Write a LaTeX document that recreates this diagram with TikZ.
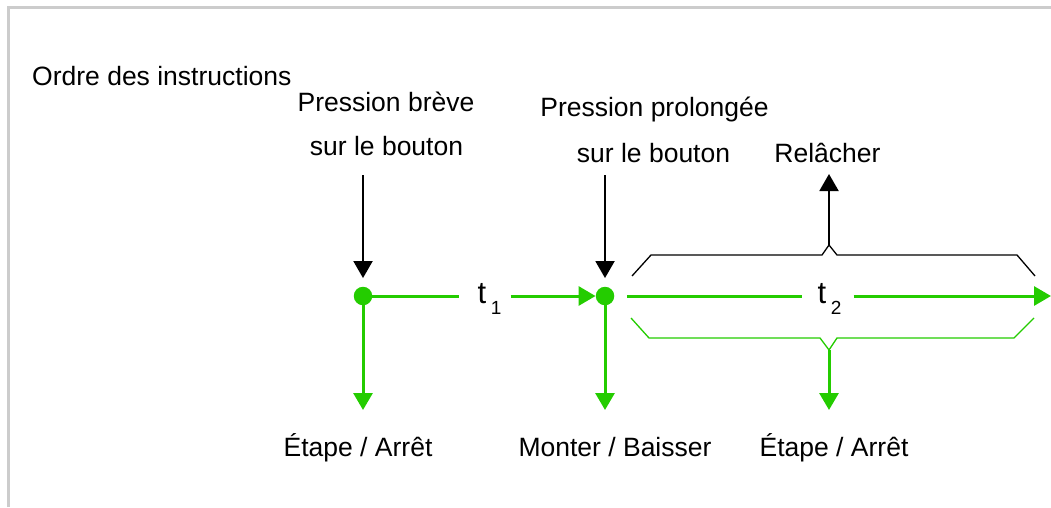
\documentclass[tikz,border=0pt]{standalone}
\usepackage{fontspec}
\setmainfont{Liberation Sans}
\usetikzlibrary{arrows.meta}
\definecolor{vert}{RGB}{36,204,0}
\definecolor{cadre}{RGB}{204,204,204}
\newcommand{\indice}[1]{\raisebox{-11pt}{\hspace{4.5pt}\fontsize{19}{22}\selectfont #1}}
\tikzset{
  txt/.style={font=\fontsize{26.5}{32}\selectfont, inner sep=0pt, anchor=base},
  tlab/.style={font=\fontsize{31}{36}\selectfont, inner sep=0pt, anchor=base west},
  pt/.style={circle, fill=vert, inner sep=0pt, minimum size=18.5pt},
  vfl/.style={draw=vert, line width=3pt, -{Triangle[length=17pt,width=19pt]}},
  nfl/.style={draw=black, line width=2pt, -{Triangle[length=17pt,width=19pt]}},
  accol/.style={line width=1.3pt}
}
\begin{document}
\begin{tikzpicture}[x=1pt,y=-1pt]
      \useasboundingbox (0,0) rectangle (1051,507);
      \draw[cadre, line width=3pt] (8.5,507) -- (8.5,7) -- (1051,7);
      \draw
        (32,85) node[txt, anchor=base west] (ordre){Ordre des instructions}
        (386,111) node[txt] (pb1){Pression brève}
        (386.5,155) node[txt] (pb2){sur le bouton}
        (654.5,116) node[txt] (pp1){Pression prolongée}
        (653.5,162) node[txt] (pp2){sur le bouton}
        (827.5,162) node[txt] (rel){Relâcher}
        (358,456) node[txt] (etape1){Étape / Arrêt}
        (615,456) node[txt] (monter){Monter / Baisser}
        (834,456) node[txt] (etape2){Étape / Arrêt}
        (363,296) node[pt] (d1){}
        (605,296) node[pt] (d2){}
        (477.5,303) node[tlab] (t1){t\indice{1}}
        (817.5,303) node[tlab] (t2){t\indice{2}};
      \coordinate (a1) at (363,175);
      \coordinate (a2) at (605,175);
      \coordinate (hautpic) at (829,245);
      \coordinate (haut) at (829,174);
      \coordinate (baspic) at (829,350);
      \coordinate (fin) at (1051,296);
      \coordinate (b1) at (363,410);
      \coordinate (b2) at (605,410);
      \coordinate (b3) at (829,410);
      % accolades
      \draw[accol] (632,276) -- (651,255) -- (822,255) -- (hautpic)
        -- (837,255) -- (1017,255) -- (1035,276);
      \draw[accol, vert] (631,318) -- (649,338) -- (820,338) -- (baspic)
        -- (837,338) -- (1014,338) -- (1034,318);
      \begin{scope}[nfl]
        \draw[shorten >=8.5pt] (a1) to (d1);
        \draw[shorten >=8.5pt] (a2) to (d2);
        \draw (hautpic) to (haut);
      \end{scope}
      \begin{scope}[vfl]
        \draw[-, shorten >=18.5pt] (d1) to (t1.west |- d1);
        \draw[shorten <=9pt] (t1.east |- d1) to (d2);
        \draw[-, shorten <=12.5pt, shorten >=15.5pt] (d2) to (t2.west |- d2);
        \draw[shorten <=12pt] (t2.east |- d2) to (fin);
        \draw (d1) to (b1);
        \draw (d2) to (b2);
        \draw (baspic) to (b3);
      \end{scope}
    \end{tikzpicture}
\end{document}
